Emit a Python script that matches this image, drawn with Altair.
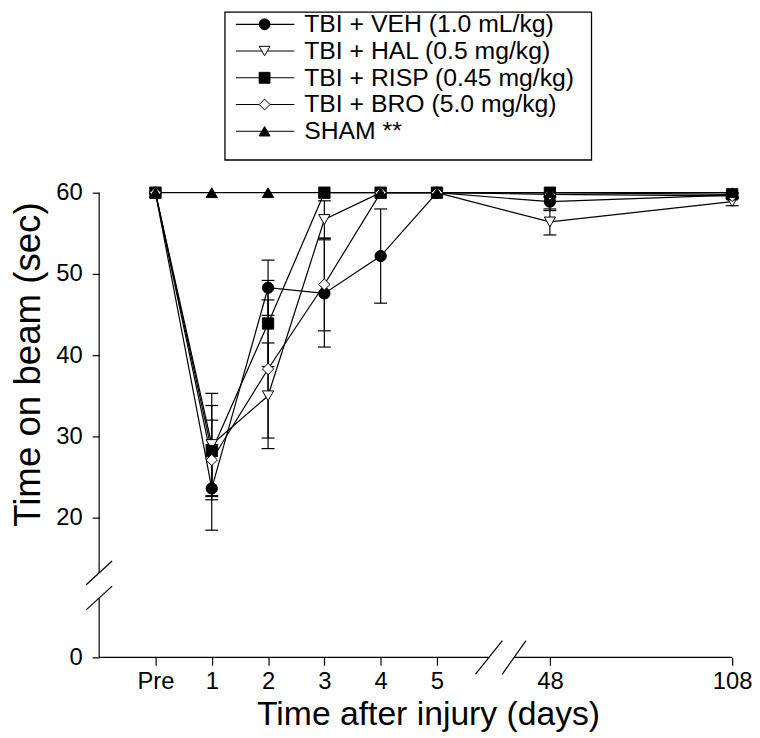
import altair as alt
import pandas as pd

FONT = "Liberation Sans"

series = ["TBI + VEH (1.0 mL/kg)", "TBI + HAL (0.5 mg/kg)", "TBI + RISP (0.45 mg/kg)",
          "TBI + BRO (5.0 mg/kg)", "SHAM **"]
shapes = ["circle", "triangle-down", "square", "diamond", "triangle-up"]
fills = ["black", "white", "black", "white", "black"]

day_labels = ["Pre", "1", "2", "3", "4", "5", "48", "108"]
day_values = [0, 1, 2, 3, 4, 5, 48, 108]

veh = [60, 23.6, 48.3, 47.6, 52.2, 60, 58.9, 59.7]
veh_err = [0, 5.4, 3.4, 6.6, 5.8, 0, 1.1, 0.4]
hal = [60, 29.0, 35.0, 56.7, 60, 60, 56.4, 58.9]
hal_err = [0, 6.3, 6.5, 2.3, 0, 0, 1.6, 0.5]
risp = [60, 28.2, 43.9, 60, 60, 60, 60, 59.8]
risp_err = [0, 5.6, 5.3, 0, 0, 0, 0, 0.3]
bro = [60, 27.1, 38.3, 48.7, 60, 60, 59.8, 59.6]
bro_err = [0, 4.9, 8.5, 5.7, 0, 0, 0.3, 0.3]
sham = [60, 60, 60, 60, 60, 60, 60, 60]
sham_err = [0, 0, 0, 0, 0, 0, 0, 0]

vals = [veh, hal, risp, bro, sham]
errs = [veh_err, hal_err, risp_err, bro_err, sham_err]

rows = []
for s, v, e in zip(series, vals, errs):
    for d, val, er in zip(day_values, v, e):
        rows.append({"series": s, "day": d, "value": val, "err": er,
                     "lo": val - er, "hi": min(val + er, 60.0) if er > 0 else val})
df = pd.DataFrame(rows)
df_err = df[df["err"] > 0].copy()
caps = pd.concat([
    df_err[["series", "day"]].assign(cap=df_err["lo"]),
    df_err[["series", "day"]].assign(cap=df_err["hi"]),
])

# broken-axis decoration (axis lines and break marks, in data units)
deco = pd.DataFrame({
    "day":    [-1, -1, -1.23, -1.23, -1, 34.4, 19.7, 29.9],
    "day2":   [-1, -1, -0.77, -0.77, 24.6, 108, 29.9, 38.9],
    "value":  [12.1, 0, 10.4, 6.8, 0, 0, -2.4, -2.4],
    "value2": [60, 8.5, 13.8, 10.2, 0, 0, 2.4, 2.4],
})

xscale = alt.Scale(domain=[-1, 5, 48, 108], range=[0, 341, 455, 639], nice=False, zero=False)
yscale = alt.Scale(domain=[0, 20, 60], range=[469, 328, 0], nice=False, zero=False)

xaxis = alt.Axis(values=day_values,
                 labelExpr="datum.value == 0 ? 'Pre' : datum.label",
                 domain=False, grid=False, tickSize=8, tickColor="black", tickWidth=1.2,
                 labelFont=FONT, labelFontSize=24, labelColor="black", labelPadding=4,
                 labelFlush=False, labelOverlap=False,
                 titleFont=FONT, titleFontSize=34, titleColor="black", titleFontWeight="normal",
                 titleX=332, titleY=68, titleBaseline="alphabetic")
yaxis = alt.Axis(values=[0, 20, 30, 40, 50, 60], domain=False, grid=False, tickSize=7,
                 tickColor="black", tickWidth=1.2,
                 labelFont=FONT, labelFontSize=24, labelColor="black", labelPadding=10,
                 labelFlush=False, labelOverlap=False,
                 titleFont=FONT, titleFontSize=37, titleColor="black", titleFontWeight="normal",
                 titleX=-89, titleY=173, titleBaseline="top")

XT = "Time after injury (days)"
YT = "Time on beam (sec)"


def X(f):
    return alt.X(f"{f}:Q", scale=xscale, axis=xaxis, title=XT)


def Y(f):
    return alt.Y(f"{f}:Q", scale=yscale, axis=yaxis, title=YT)


shape_enc = alt.Shape("series:N", scale=alt.Scale(domain=series, range=shapes), legend=None)
fill_enc = alt.Fill("series:N", scale=alt.Scale(domain=series, range=fills), legend=None)

lines = alt.Chart(df).mark_line(color="black", strokeWidth=1.2).encode(
    x=X("day"), y=Y("value"), detail="series:N")
err_rules = alt.Chart(df_err).mark_rule(color="black", strokeWidth=1.2).encode(
    x=X("day"), y=Y("lo"), y2="hi")
err_caps = alt.Chart(caps).mark_tick(orient="horizontal", size=13, thickness=1.2,
                                     color="black", opacity=1).encode(x=X("day"), y=Y("cap"))
points = alt.Chart(df).mark_point(filled=True, size=130, stroke="black", strokeWidth=1,
                                  opacity=1).encode(
    x=X("day"), y=Y("value"), shape=shape_enc, fill=fill_enc)
axis_deco = alt.Chart(deco).mark_rule(color="black", strokeWidth=1.2).encode(
    x=X("day"), x2="day2", y=Y("value"), y2="value2")

main = alt.layer(lines, err_rules, err_caps, points, axis_deco)

leg_df = pd.DataFrame({"series": series})
LY = alt.Y("series:N", scale=alt.Scale(type="point", domain=series, range=[-170, -62], padding=0),
           axis=None)
box = alt.Chart(pd.DataFrame({"k": [0]})).mark_rect(fill="white", stroke="black", strokeWidth=1.3).encode(
    x=alt.value(127), x2=alt.value(497), y=alt.value(-182.3), y2=alt.value(-33))
leg_line = alt.Chart(leg_df).mark_rule(color="black", strokeWidth=1.2).encode(
    x=alt.value(138), x2=alt.value(197), y=LY)
leg_pts = alt.Chart(leg_df).mark_point(filled=True, size=120, stroke="black", strokeWidth=1,
                                       opacity=1).encode(
    x=alt.value(167), y=LY, shape=shape_enc, fill=fill_enc)
leg_txt = alt.Chart(leg_df).mark_text(align="left", baseline="middle", font=FONT, fontSize=25,
                                      color="black").encode(
    x=alt.value(207), y=LY, text="series:N")
legend = alt.layer(box, leg_line, leg_pts, leg_txt)

chart = alt.layer(main, legend).resolve_scale(y="independent").properties(
    width=639, height=469,
    padding={"left": 92, "top": 183, "right": 20, "bottom": 78},
    autosize=alt.AutoSizeParams(type="none"),
).configure_view(stroke=None)

chart.save("out.html", embed_options={"renderer": "svg", "actions": False})
